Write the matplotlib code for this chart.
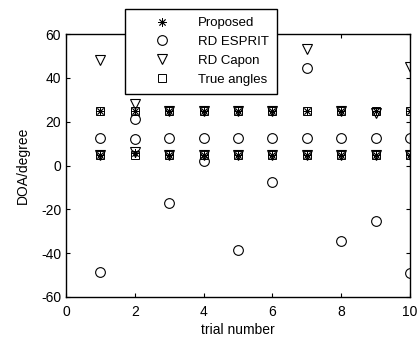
import numpy as np
import matplotlib
matplotlib.use('Agg')
import matplotlib.pyplot as plt

plt.rcParams['font.family'] = ['Liberation Sans', 'DejaVu Sans']
plt.rcParams['font.size'] = 8
plt.rcParams['axes.unicode_minus'] = False

trials = np.arange(1, 11)

# two estimated angles per trial
proposed_a = [25, 25, 25, 25, 25, 25, 25, 25, 25, 25]
proposed_b = [5, 5.5, 5, 5, 5, 5, 5, 5, 5, 5]
esprit_a = [12.5, 21, 12.5, 12.5, 12.5, 12.5, 44.5, 12.5, 12.5, 12.5]
esprit_b = [-48.5, 12, -17, 2, -38.5, -7.5, 12.5, -34.5, -25.5, -49]
capon_a = [48, 28, 25, 25, 25, 25, 53, 25, 24, 45]
capon_b = [5, 6, 5, 5, 5, 5, 5, 5, 5, 5]
true_a = [25] * 10
true_b = [5] * 10

star = (8, 2, 0)

fig = plt.figure(figsize=(4.17, 3.40), dpi=100)
ax = fig.add_axes([66/417, 1-297/340, (410-66)/417, (297-34)/340])

ax.plot(trials, proposed_a, 'k', ls='none', marker=star, ms=6, mew=0.6, label='Proposed')
ax.plot(trials, proposed_b, 'k', ls='none', marker=star, ms=6, mew=0.6)
ax.plot(trials, esprit_a, 'ko', mfc='none', ms=7, mew=0.8, label='RD ESPRIT')
ax.plot(trials, esprit_b, 'ko', mfc='none', ms=7, mew=0.8)
ax.plot(trials, capon_a, 'kv', mfc='none', ms=7, mew=0.8, label='RD Capon')
ax.plot(trials, capon_b, 'kv', mfc='none', ms=7, mew=0.8)
ax.plot(trials, true_a, 'ks', mfc='none', ms=5.5, mew=0.7, label='True angles')
ax.plot(trials, true_b, 'ks', mfc='none', ms=5.5, mew=0.7)

ax.set_xlim(0, 10)
ax.set_ylim(-60, 60)
ax.set_xticks(range(0, 11, 2))
ax.set_yticks(range(-60, 61, 20))
ax.tick_params(direction='in', top=True, right=True, length=3, labelsize=10)
ax.tick_params(axis='x', pad=6)
for s in ax.spines.values():
    s.set_linewidth(1.0)
ax.set_xlabel('trial number', fontsize=10, labelpad=3)
ax.set_ylabel('DOA/degree', fontsize=10, labelpad=8)

leg = ax.legend(loc='upper left', bbox_to_anchor=(125/417, 1-9/340),
                bbox_transform=fig.transFigure, borderaxespad=0,
                fancybox=False, edgecolor='k', framealpha=1, fontsize=9.5,
                numpoints=1, handlelength=4.4, handletextpad=0.53,
                labelspacing=0.5, borderpad=0.6)
leg.get_frame().set_linewidth(1.0)
leg.set_zorder(10)

fig.savefig('out.png', dpi=100)
